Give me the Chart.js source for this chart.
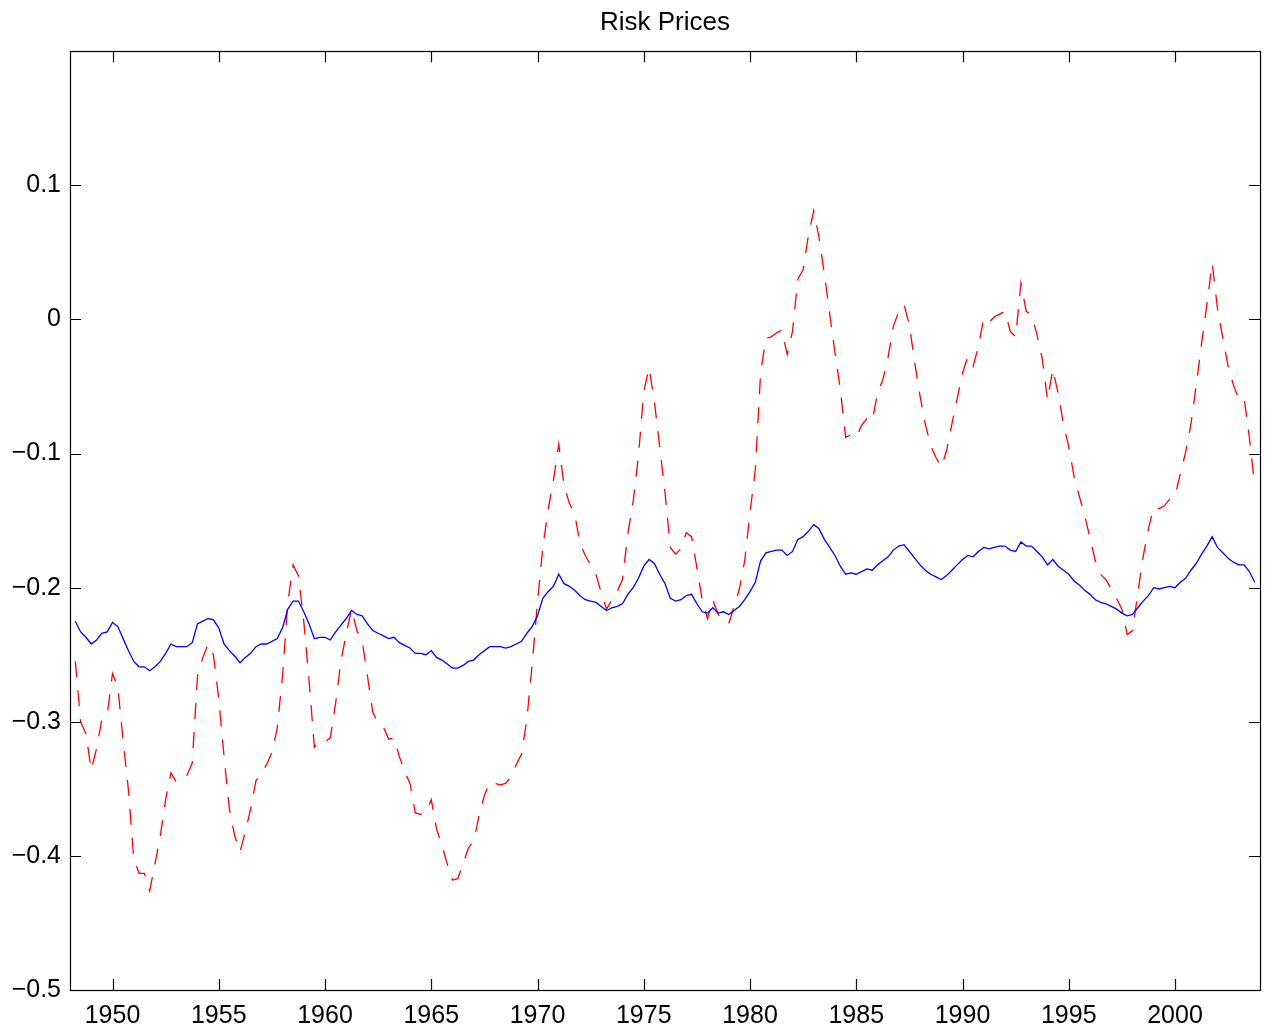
<!DOCTYPE html>
<html>
<head>
<meta charset="utf-8">
<title>Risk Prices</title>
<script src="https://cdn.jsdelivr.net/npm/chart.js@4.4.1/dist/chart.umd.min.js"></script>
<style>
  html, body { margin: 0; padding: 0; background: #fff; }
  #wrap { width: 1269px; height: 1031px; }
</style>
</head>
<body>
<div id="wrap"><canvas id="chart"></canvas></div>
<script>
// quarterly observations, first one is 1948 Q2
const startYear = 1948.25;

// solid blue series
const bluePrices = [
  -0.225, -0.233, -0.237, -0.242, -0.239, -0.234, -0.233, -0.226, -0.229, -0.238,
  -0.247, -0.255, -0.259, -0.259, -0.262, -0.259, -0.255, -0.249, -0.242, -0.244,
  -0.244, -0.244, -0.241, -0.227, -0.225, -0.223, -0.224, -0.230, -0.242, -0.247,
  -0.251, -0.256, -0.252, -0.249, -0.244, -0.242, -0.242, -0.240, -0.238, -0.230,
  -0.216, -0.210, -0.210, -0.218, -0.227, -0.238, -0.237, -0.237, -0.239, -0.233,
  -0.228, -0.223, -0.217, -0.220, -0.221, -0.227, -0.232, -0.234, -0.236, -0.238,
  -0.237, -0.241, -0.243, -0.245, -0.249, -0.249, -0.250, -0.247, -0.252, -0.254,
  -0.257, -0.260, -0.260, -0.258, -0.255, -0.254, -0.250, -0.247, -0.244, -0.244,
  -0.244, -0.245, -0.244, -0.242, -0.240, -0.234, -0.229, -0.221, -0.208, -0.203,
  -0.199, -0.190, -0.197, -0.199, -0.202, -0.206, -0.209, -0.210, -0.211, -0.214,
  -0.217, -0.215, -0.214, -0.212, -0.205, -0.200, -0.193, -0.184, -0.179, -0.182,
  -0.190, -0.197, -0.208, -0.210, -0.209, -0.206, -0.205, -0.212, -0.218, -0.219,
  -0.215, -0.219, -0.218, -0.220, -0.217, -0.214, -0.209, -0.203, -0.196, -0.180,
  -0.174, -0.173, -0.172, -0.172, -0.176, -0.173, -0.164, -0.162, -0.158, -0.153,
  -0.156, -0.164, -0.170, -0.176, -0.184, -0.190, -0.189, -0.190, -0.188, -0.186,
  -0.187, -0.183, -0.180, -0.177, -0.172, -0.169, -0.168, -0.173, -0.178, -0.183,
  -0.187, -0.190, -0.192, -0.194, -0.191, -0.187, -0.183, -0.179, -0.176, -0.177,
  -0.173, -0.170, -0.171, -0.170, -0.169, -0.169, -0.172, -0.173, -0.166, -0.169,
  -0.169, -0.173, -0.177, -0.183, -0.179, -0.184, -0.187, -0.190, -0.195, -0.198,
  -0.202, -0.205, -0.209, -0.211, -0.212, -0.214, -0.216, -0.219, -0.221, -0.220,
  -0.215, -0.210, -0.206, -0.200, -0.201, -0.200, -0.199, -0.200, -0.196, -0.193,
  -0.187, -0.182, -0.175, -0.169, -0.162, -0.170, -0.174, -0.178, -0.181, -0.183,
  -0.183, -0.188, -0.196
];

// dashed red series
const redPrices = [
  -0.255, -0.300, -0.309, -0.336, -0.320, -0.298, -0.295, -0.264, -0.274, -0.314,
  -0.351, -0.402, -0.413, -0.413, -0.426, -0.406, -0.385, -0.358, -0.338, -0.345,
  -0.343, -0.340, -0.331, -0.266, -0.252, -0.242, -0.250, -0.283, -0.326, -0.365,
  -0.385, -0.397, -0.382, -0.365, -0.344, -0.339, -0.332, -0.323, -0.305, -0.266,
  -0.211, -0.183, -0.191, -0.225, -0.269, -0.319, -0.314, -0.315, -0.312, -0.286,
  -0.255, -0.234, -0.216, -0.232, -0.240, -0.266, -0.293, -0.301, -0.304, -0.313,
  -0.312, -0.326, -0.337, -0.346, -0.368, -0.369, -0.368, -0.358, -0.380, -0.392,
  -0.406, -0.418, -0.417, -0.406, -0.394, -0.389, -0.370, -0.355, -0.345, -0.346,
  -0.347, -0.346, -0.341, -0.332, -0.324, -0.298, -0.257, -0.211, -0.170, -0.142,
  -0.120, -0.093, -0.124, -0.137, -0.145, -0.167, -0.176, -0.183, -0.190, -0.204,
  -0.216, -0.209, -0.203, -0.194, -0.160, -0.136, -0.102, -0.054, -0.036, -0.061,
  -0.095, -0.129, -0.170, -0.175, -0.171, -0.159, -0.162, -0.185, -0.209, -0.223,
  -0.209, -0.220, -0.225, -0.227, -0.214, -0.201, -0.180, -0.144, -0.112, -0.040,
  -0.014, -0.013, -0.010, -0.008, -0.026, -0.009, 0.030, 0.037, 0.063, 0.081,
  0.061, 0.034, 0.004, -0.025, -0.052, -0.088, -0.086, -0.088, -0.079, -0.074,
  -0.076, -0.055, -0.045, -0.028, -0.005, 0.006, 0.011, -0.004, -0.032, -0.057,
  -0.078, -0.094, -0.103, -0.110, -0.098, -0.078, -0.059, -0.040, -0.028, -0.035,
  -0.020, 0.001, -0.002, 0.002, 0.004, 0.006, -0.009, -0.013, 0.027, 0.006,
  0.003, -0.011, -0.029, -0.060, -0.037, -0.055, -0.078, -0.095, -0.117, -0.132,
  -0.146, -0.163, -0.180, -0.190, -0.194, -0.201, -0.208, -0.216, -0.235, -0.232,
  -0.204, -0.177, -0.156, -0.140, -0.141, -0.139, -0.134, -0.132, -0.115, -0.099,
  -0.078, -0.049, -0.018, 0.011, 0.042, 0.008, -0.014, -0.035, -0.049, -0.059,
  -0.058, -0.088, -0.124
];

const yearTicks = [1950, 1955, 1960, 1965, 1970, 1975, 1980, 1985, 1990, 1995, 2000];
const valueTicks = [-0.5, -0.4, -0.3, -0.2, -0.1, 0, 0.1];

const quarters = bluePrices.map((_, i) => startYear + i / 4);
const toPoints = vals => vals.map((v, i) => ({ x: quarters[i], y: v }));

const FONT = "'Liberation Sans', Arial, Helvetica, sans-serif";

// matlab-like frame: full box with short inward ticks on every side
const boxFrame = {
  id: "boxFrame",
  afterDatasetsDraw(chart) {
    const { ctx, chartArea: a, scales: { x, y } } = chart;
    const len = 11;
    ctx.save();
    ctx.strokeStyle = "#000";
    ctx.lineWidth = 1.2;
    ctx.beginPath();
    yearTicks.forEach(t => {
      const px = Math.round(x.getPixelForValue(t)) + 0.5;
      ctx.moveTo(px, a.bottom); ctx.lineTo(px, a.bottom - len);
      ctx.moveTo(px, a.top); ctx.lineTo(px, a.top + len);
    });
    valueTicks.forEach(t => {
      const py = Math.round(y.getPixelForValue(t)) + 0.5;
      ctx.moveTo(a.left, py); ctx.lineTo(a.left + len, py);
      ctx.moveTo(a.right, py); ctx.lineTo(a.right - len, py);
    });
    ctx.stroke();
    ctx.strokeRect(Math.round(a.left) + 0.5, Math.round(a.top) + 0.5,
      Math.round(a.right - a.left), Math.round(a.bottom - a.top));
    ctx.restore();
  }
};

const fmtValue = v => {
  if (Math.abs(v) < 1e-9) return "0";
  const s = Math.abs(v).toFixed(1);
  return v < 0 ? "\u2212" + s : s;
};

new Chart(document.getElementById("chart"), {
  type: "line",
  data: {
    datasets: [
      {
        label: "blue",
        data: toPoints(bluePrices),
        borderColor: "#0000ff",
        borderWidth: 1.3,
        pointRadius: 0,
        tension: 0
      },
      {
        label: "red",
        data: toPoints(redPrices),
        borderColor: "#ff0000",
        borderWidth: 1.3,
        borderDash: [16, 13],
        pointRadius: 0,
        tension: 0
      }
    ]
  },
  options: {
    responsive: true,
    maintainAspectRatio: false,
    animation: false,
    layout: { padding: { left: 0, right: 9, top: 0, bottom: 0 } },
    plugins: {
      legend: { display: false },
      tooltip: { enabled: false },
      title: {
        display: true,
        fullSize: false,
        text: "Risk Prices",
        color: "#000",
        font: { family: FONT, size: 26, weight: "normal" },
        padding: { top: 7, bottom: 13 }
      }
    },
    scales: {
      x: {
        type: "linear",
        min: 1948,
        max: 2004,
        grid: { display: false, drawTicks: false },
        border: { display: false },
        afterBuildTicks: s => { s.ticks = yearTicks.map(v => ({ value: v })); },
        afterFit: s => { s.height = 41; },
        ticks: {
          color: "#000",
          font: { family: FONT, size: 25 },
          padding: 11,
          maxRotation: 0,
          callback: v => String(v)
        }
      },
      y: {
        min: -0.5,
        max: 0.2,
        grid: { display: false, drawTicks: false },
        border: { display: false },
        afterBuildTicks: s => { s.ticks = valueTicks.map(v => ({ value: v })); },
        afterFit: s => { s.width = 70; },
        ticks: {
          color: "#000",
          font: { family: FONT, size: 25 },
          padding: 9,
          callback: v => fmtValue(v)
        }
      }
    }
  },
  plugins: [boxFrame]
});
</script>
</body>
</html>
